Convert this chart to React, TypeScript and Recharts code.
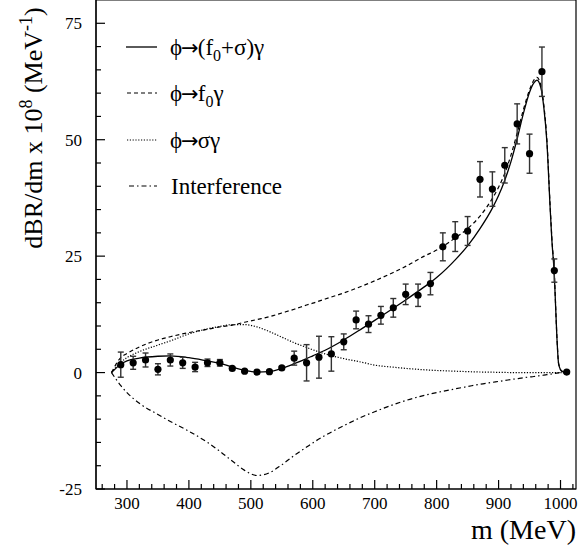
import React from "react"
import {
  ComposedChart,
  Line,
  Scatter,
  ErrorBar,
  XAxis,
  YAxis,
  ReferenceArea,
  Customized,
} from "recharts"

const FONT = "'Liberation Serif', 'DejaVu Serif', serif"

// measured points (MeV, dBR/dm x 1e8, error)
const pointM = [
  290, 310, 330, 350, 370, 390, 410, 430, 450, 470, 490, 510, 530, 550, 570, 590, 610, 630,
  650, 670, 690, 710, 730, 750, 770, 790, 810, 830, 850, 870, 890, 910, 930, 950, 970, 990, 1010,
]
const pointV = [
  1.7, 2.1, 2.7, 0.7, 2.7, 2.1, 1.2, 2.1, 2.1, 0.9, 0.3, 0.1, 0.2, 1.0, 3.1, 2.1, 3.3, 4.0,
  6.6, 11.3, 10.4, 12.3, 13.9, 16.8, 16.6, 19.1, 27.0, 29.2, 30.4, 41.5, 39.4, 44.5, 53.4, 47.0, 64.6, 21.9, 0.1,
]
const pointErr = [
  2.7, 1.4, 1.5, 1.2, 1.3, 1.2, 1.0, 0.8, 0.7, 0.3, 0.2, 0.2, 0.2, 0.3, 1.5, 3.9, 4.5, 3.7,
  1.7, 1.9, 1.8, 1.9, 2.0, 2.2, 2.4, 2.4, 3.0, 3.2, 3.1, 3.8, 3.7, 3.8, 4.3, 4.2, 5.3, 2.5, 0,
]

// fit curves
const curveM = [
  275, 290, 300, 320, 350, 370, 400, 430, 450, 470, 490, 510, 530, 550, 570, 590, 600, 620,
  650, 680, 700, 730, 750, 780, 800, 830, 850, 870, 890, 900, 910, 920, 930, 940, 950, 957,
  962, 968, 973, 978, 983, 986, 990, 994, 997, 1002, 1010,
]
const totalFit = [
  0, 1.8, 2.5, 3.1, 3.5, 3.6, 3.2, 2.5, 2.0, 1.2, 0.5, 0.1, 0.2, 0.9, 1.9, 3.0, 3.6, 4.8,
  7.0, 9.5, 11.2, 13.8, 15.6, 18.4, 20.4, 24.2, 27.2, 30.9, 35.3, 38.0, 41.3, 45.3, 50.2, 55.6, 60.2, 62.2,
  62.8, 61.3, 57.0, 49.5, 36.0, 28.5, 21.0, 8.0, 1.8, 0.3, 0,
]
const f0Fit = [
  0, 3.2, 4.1, 5.5, 7.0, 7.7, 8.6, 9.3, 9.8, 10.2, 10.8, 11.4, 12.0, 12.8, 13.6, 14.5, 14.9, 15.8,
  17.1, 18.6, 19.7, 21.5, 22.8, 25.0, 26.3, 28.9, 30.9, 33.6, 37.4, 39.8, 42.8, 46.7, 51.4, 56.4, 60.7, 62.8,
  63.4, 61.8, 57.5, 50.0, 36.5, 29.0, 21.3, 8.2, 1.9, 0.3, 0,
]
const sigmaFit = [
  0, 2.2, 3.2, 4.5, 5.9, 6.8, 8.3, 9.4, 9.9, 10.3, 10.3, 9.8, 8.8, 7.6, 6.4, 5.4, 4.9, 4.0,
  3.0, 2.2, 1.6, 1.15, 0.9, 0.6, 0.45, 0.3, 0.2, 0.12, 0.08, 0.05, 0.03, 0, 0, 0, 0, 0,
  0, 0, 0, 0, 0, 0, 0, 0, 0, 0, 0,
]
const interfFit = [
  0, -2.8, -4.3, -6.6, -9.0, -10.5, -12.6, -15.0, -16.9, -19.0, -21.0, -22.1, -21.5, -19.8, -17.8, -16.0, -15.1, -13.5,
  -11.4, -9.5, -8.4, -6.9, -6.0, -4.9, -4.3, -3.5, -3.0, -2.5, -2.1, -1.9, -1.7, -1.5, -1.3, -1.1, -0.95, -0.85,
  -0.75, -0.65, -0.55, -0.45, -0.35, -0.3, -0.2, -0.1, -0.05, 0, 0,
]

const xTicks = Array.from({ length: 39 }, (_, i) => 260 + i * 20)
const yTicks = Array.from({ length: 21 }, (_, i) => -25 + i * 5)

const points = pointM.map((m, i) => ({ m, v: pointV[i], err: pointErr[i] }))
const toCurve = (vals: number[]) => curveM.map((m, i) => ({ m, y: vals[i] }))

const XTick = ({ x, y, payload }: any) => {
  const v = payload.value
  const major = v % 100 === 0
  return (
    <g>
      <line x1={x} x2={x} y1={y} y2={y - (major ? 9 : 5)} stroke="#000" strokeWidth={1.2} />
      {major && (
        <text x={x} y={y + 20} textAnchor="middle" fontFamily={FONT} fontSize={17} fill="#000">
          {v}
        </text>
      )}
    </g>
  )
}

const YTick = ({ x, y, payload }: any) => {
  const v = payload.value
  const major = v % 25 === 0
  return (
    <g>
      <line x1={x} x2={x + (major ? 9 : 5)} y1={y} y2={y} stroke="#000" strokeWidth={1.2} />
      {major && (
        <text x={x - 14} y={y} dy="0.35em" textAnchor="end" fontFamily={FONT} fontSize={17} fill="#000">
          {v}
        </text>
      )}
    </g>
  )
}

const Arrow = () => (
  <tspan fontFamily="'DejaVu Sans', sans-serif" fontSize={21} dx={-1}>
    →
  </tspan>
)

const Overlay = () => (
  <g fontFamily={FONT} fill="#000">
    <text x={42} y={128} transform="rotate(-90 42 128)" textAnchor="middle" fontSize={26}>
      dBR/dm x 10<tspan dy={-10} fontSize={18}>8</tspan>
      <tspan dy={10}> (MeV</tspan>
      <tspan dy={-10} fontSize={18}>-1</tspan>
      <tspan dy={10}>)</tspan>
    </text>
    <text x={576} y={539} textAnchor="end" fontSize={28}>
      m (MeV)
    </text>

    <line x1={126} x2={157} y1={47} y2={47} stroke="#000" strokeWidth={1.3} />
    <text x={170} y={55} fontSize={23}>
      ϕ<Arrow />
      <tspan dx={-1}>(f</tspan>
      <tspan dy={6} fontSize={16}>0</tspan>
      <tspan dy={-6}>+σ)γ</tspan>
    </text>

    <line x1={127} x2={157} y1={93} y2={93} stroke="#000" strokeWidth={1.2} strokeDasharray="4 3" />
    <text x={170} y={101} fontSize={23}>
      ϕ<Arrow />
      <tspan dx={-1}>f</tspan>
      <tspan dy={6} fontSize={16}>0</tspan>
      <tspan dy={-6}>γ</tspan>
    </text>

    <line x1={127} x2={157} y1={140} y2={140} stroke="#000" strokeWidth={1.2} strokeDasharray="1.2 1.6" />
    <text x={170} y={148} fontSize={23}>
      ϕ<Arrow />
      <tspan dx={-1}>σγ</tspan>
    </text>

    <line x1={129} x2={157} y1={186} y2={186} stroke="#000" strokeWidth={1.2} strokeDasharray="5 3 1.5 3" />
    <text x={171} y={194} fontSize={23}>
      Interference
    </text>
  </g>
)

export default function App() {
  return (
    <div style={{ position: "absolute", left: 0, top: 0, width: 579, height: 552, background: "#fff" }}>
      <ComposedChart width={579} height={552} margin={{ top: 0, right: 3, bottom: 0, left: 0 }}>
        <XAxis
          dataKey="m"
          type="number"
          domain={[250, 1025]}
          ticks={xTicks}
          interval={0}
          allowDataOverflow
          height={63}
          tickSize={0}
          tickMargin={0}
          tickLine={false}
          axisLine={{ stroke: "#000", strokeWidth: 1.2 }}
          tick={<XTick />}
        />
        <YAxis
          type="number"
          domain={[-25, 80]}
          ticks={yTicks}
          interval={0}
          allowDataOverflow
          width={96}
          tickSize={0}
          tickMargin={0}
          tickLine={false}
          axisLine={{ stroke: "#000", strokeWidth: 1.2 }}
          tick={<YTick />}
        />
        <ReferenceArea x1={250} x2={1025} y1={-25} y2={80} fill="none" stroke="#000" strokeWidth={1.2} />

        <Line data={toCurve(sigmaFit)} dataKey="y" type="monotone" stroke="#000" strokeWidth={1.2}
          strokeDasharray="1.2 1.6" dot={false} isAnimationActive={false} />
        <Line data={toCurve(interfFit)} dataKey="y" type="monotone" stroke="#000" strokeWidth={1.2}
          strokeDasharray="5 3 1.5 3" dot={false} isAnimationActive={false} />
        <Line data={toCurve(f0Fit)} dataKey="y" type="monotone" stroke="#000" strokeWidth={1.2}
          strokeDasharray="4 3" dot={false} isAnimationActive={false} />
        <Line data={toCurve(totalFit)} dataKey="y" type="monotone" stroke="#000" strokeWidth={1.3}
          dot={false} isAnimationActive={false} />

        <Scatter
          data={points}
          dataKey="v"
          isAnimationActive={false}
          shape={(p: any) => <circle cx={p.cx} cy={p.cy} r={3.6} fill="#000" />}
        >
          <ErrorBar dataKey="err" direction="y" width={3} stroke="#333" strokeWidth={1.4} />
        </Scatter>

        <Customized component={Overlay} />
      </ComposedChart>
    </div>
  )
}
